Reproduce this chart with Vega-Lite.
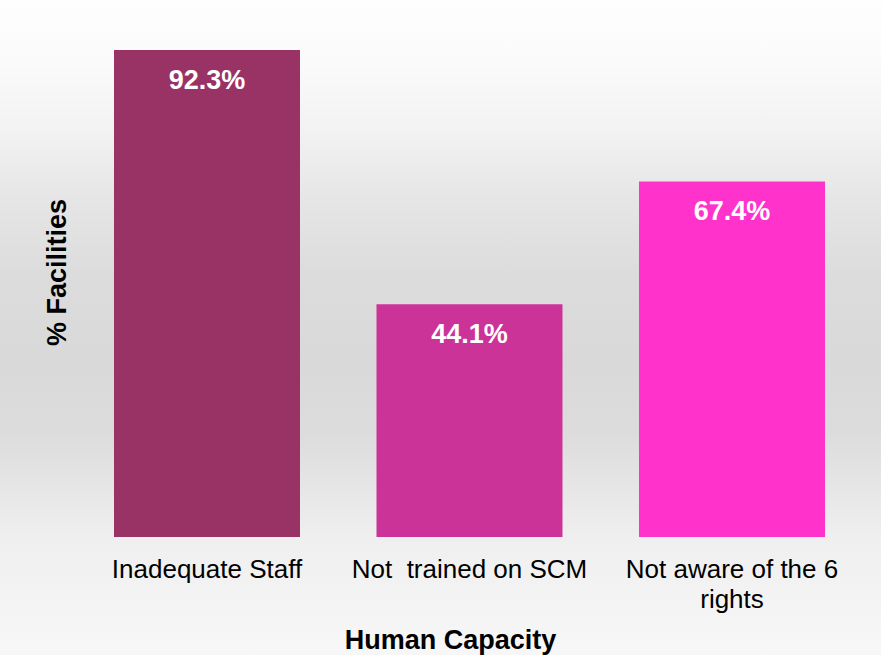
{
  "$schema": "https://vega.github.io/schema/vega-lite/v6.json",
  "width": 881,
  "height": 655,
  "autosize": {"type": "none"},
  "padding": 0,
  "background": "#f4f4f4",
  "config": {
    "font": "Liberation Sans",
    "view": {
      "stroke": null,
      "fill": {
        "gradient": "linear",
        "x1": 0, "y1": 0, "x2": 0, "y2": 1,
        "stops": [
          {"offset": 0, "color": "#fefefe"},
          {"offset": 0.1, "color": "#fafafa"},
          {"offset": 0.2, "color": "#f2f2f2"},
          {"offset": 0.3, "color": "#e6e6e6"},
          {"offset": 0.42, "color": "#dcdcdc"},
          {"offset": 0.55, "color": "#d9d9d9"},
          {"offset": 0.66, "color": "#dcdcdc"},
          {"offset": 0.82, "color": "#efefef"},
          {"offset": 1, "color": "#f7f7f7"}
        ]
      }
    }
  },
  "data": {
    "values": [
      {"category": "Inadequate Staff", "value": 92.3, "label": "92.3%"},
      {"category": "Not\u00a0 trained on SCM", "value": 44.1, "label": "44.1%"},
      {"category": "Not aware of the 6 rights", "value": 67.4, "label": "67.4%"}
    ]
  },
  "encoding": {
    "x": {
      "field": "category",
      "type": "nominal",
      "sort": null,
      "scale": {"paddingInner": 0.2914, "paddingOuter": 0.3238, "align": 0.6706},
      "axis": {
        "orient": "bottom",
        "offset": -118,
        "domain": false,
        "ticks": false,
        "grid": false,
        "labelAngle": 0,
        "labelPadding": 19.5,
        "labelFontSize": 26,
        "labelColor": "#000000",
        "labelLimit": 0,
        "labelOverlap": false,
        "labelBound": false,
        "labelLineHeight": 30,
        "labelExpr": "datum.value == 'Not aware of the 6 rights' ? ['Not aware of the 6', 'rights'] : datum.value",
        "title": "Human Capacity",
        "titleFontSize": 27,
        "titleFontWeight": "bold",
        "titleColor": "#000000",
        "titleX": 450,
        "titleY": 111,
        "titleAlign": "center",
        "titleBaseline": "alphabetic"
      }
    },
    "y": {
      "field": "value",
      "type": "quantitative",
      "scale": {"domain": [-22.37, 101.8], "nice": false},
      "axis": {
        "labels": false,
        "ticks": false,
        "domain": false,
        "grid": false,
        "title": "% Facilities",
        "titleFontSize": 27,
        "titleFontWeight": "bold",
        "titleColor": "#000000",
        "titleAngle": -90,
        "titleX": 57,
        "titleY": 272,
        "titleAlign": "center",
        "titleBaseline": "middle"
      }
    }
  },
  "layer": [
    {
      "mark": {"type": "bar"},
      "encoding": {
        "color": {
          "field": "category",
          "type": "nominal",
          "scale": {
            "domain": ["Inadequate Staff", "Not\u00a0 trained on SCM", "Not aware of the 6 rights"],
            "range": ["#993366", "#CC3399", "#FF33CC"]
          },
          "legend": null
        }
      }
    },
    {
      "mark": {
        "type": "text",
        "dy": 39,
        "baseline": "alphabetic",
        "align": "center",
        "fontSize": 27,
        "fontWeight": "bold",
        "color": "#ffffff"
      },
      "encoding": {"text": {"field": "label"}}
    }
  ]
}
